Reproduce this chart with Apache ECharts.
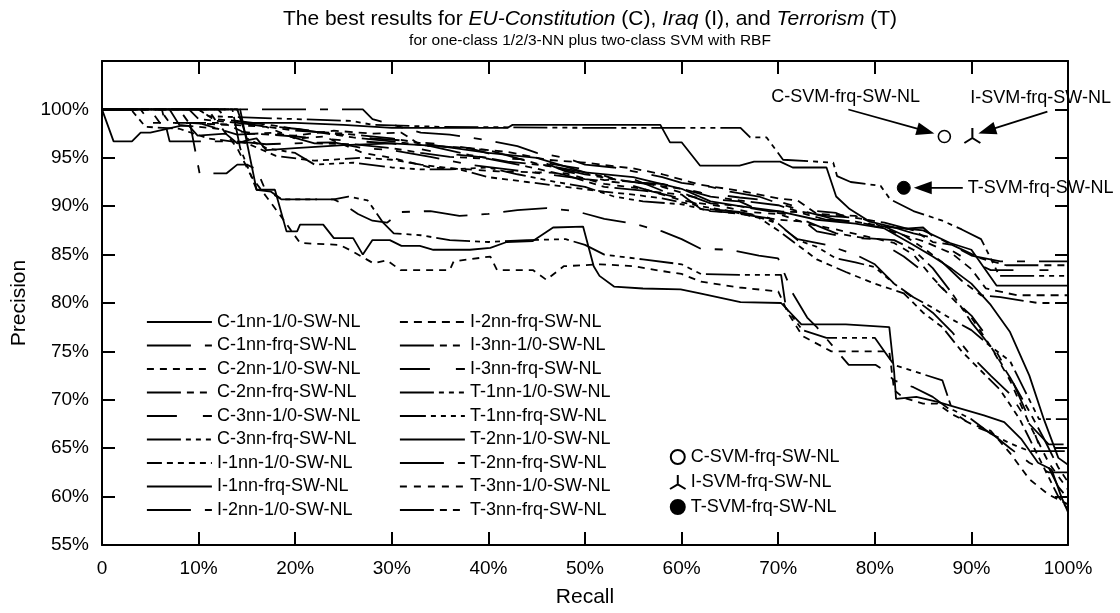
<!DOCTYPE html>
<html><head><meta charset="utf-8">
<script src="https://cdn.jsdelivr.net/npm/echarts@6/dist/echarts.min.js"></script>
<style>html,body{margin:0;padding:0;background:#fff}#c{width:1120px;height:613px}</style>
</head><body><div id="c"></div>
<script>
// ---------- data (recall %, precision %) ----------
const xTicks = [0,10,20,30,40,50,60,70,80,90,100];
const yTicks = [55,60,65,70,75,80,85,90,95,100];
const seriesNames = ['C-1nn-1/0-SW-NL','C-1nn-frq-SW-NL','C-2nn-1/0-SW-NL','C-2nn-frq-SW-NL','C-3nn-1/0-SW-NL','C-3nn-frq-SW-NL','I-1nn-1/0-SW-NL','I-1nn-frq-SW-NL','I-2nn-1/0-SW-NL','I-2nn-frq-SW-NL','I-3nn-1/0-SW-NL','I-3nn-frq-SW-NL','T-1nn-1/0-SW-NL','T-1nn-frq-SW-NL','T-2nn-1/0-SW-NL','T-2nn-frq-SW-NL','T-3nn-1/0-SW-NL','T-3nn-frq-SW-NL'];
const svmNames = ['C-SVM-frq-SW-NL','I-SVM-frq-SW-NL','T-SVM-frq-SW-NL'];

const c1nn10 = [[0,100],[14,100],[14.5,98.6],[20,98.6],[25,98.4],[30,98.1],[42,98.1],[42.5,98.4],[57.8,98.4],[58.8,96.6],[60,96.6],[61.9,94.2],[66,94.2],[67.5,94.6],[70.2,94.6],[71.5,94],[75,94],[76,91],[77.4,89.7],[79.5,88.4],[82,87.8],[85,87.5],[87.8,86.2],[90,85.5],[92.6,81.8],[100,81.8]];
const c1nnfrq = [[0,100],[27,100],[28,99],[33,97.6],[36,97.4],[40,96.8],[43,96.2],[45,95.5],[48,95],[50,94.3],[53,94],[55,93.6],[58,93],[60,92.4],[63,92],[65,91.5],[68,91],[70,90.3],[73,89.4],[76,88.6],[78,88.4],[80,88],[82,87.8],[84,87.2],[87,86.5],[90,84.9],[93,84.3],[100,84.3]];
const c2nn10 = [[0,100],[6,100],[7,98.6],[12,98.6],[14,96],[15.5,93],[17,91],[18.5,89],[20.5,86.2],[24.6,86],[26,85.3],[28.1,84.1],[29.5,84.4],[30.9,83.4],[36,83.4],[36.4,84.3],[40.2,84.8],[40.9,83.4],[44.6,83.4],[46,82.4],[47.8,83.8],[51.6,84],[55,83.8],[58,83.3],[60,83],[62,82.2],[66,81.6],[70,81.2],[71,79],[72.5,76.6],[75.5,75],[81.5,75],[82,71],[83,70.2],[85,69.6],[86.5,69.6],[88,68.5],[90,67.5],[92,66.8],[94,64.5],[96,61.8],[98,60.2],[100,59.2]];
const c2nnfrq = [[0,100],[9,100],[10,99],[15,98.5],[20,97.8],[25,97.5],[30,97],[35,96.2],[40,95.8],[45,94.4],[50,93.5],[53,92.8],[57,92.2],[60,91.8],[63,91],[66,90.6],[70,90.1],[72,89.5],[75,89],[78,88.8],[81,88.3],[84,87.5],[86,86.3],[88,86],[91,84.6],[93.6,83.9],[100,83.9]];
const c3nn10 = [[0,100],[5,100],[6,98.6],[10,98.6],[12,98],[16,97.5],[20,97.2],[25,96.8],[30,96.5],[35,95.5],[40,95],[45,94.8],[48,93.6],[52,92.7],[55,92.8],[58,91.6],[62,90.8],[66,90.5],[68,89.6],[72,89],[74,87.4],[77,86.8],[80,86.6],[83,84.8],[86,82.5],[88,80.5],[90,78.7],[92,76],[94,72.5],[96,68],[97.5,64],[99,61],[100,59.8]];
const c3nnfrq = [[0,100],[10,100],[11,99.3],[20,99],[26,98.8],[28,98.4],[35,98.2],[49.5,98.1],[66.1,98.1],[67.1,97.1],[68.8,97.1],[70.5,94.8],[75.7,94.5],[76.1,93.1],[77.5,92.5],[80.6,92.1],[81.6,90.7],[84,89.5],[87,88.5],[89,87.6],[91,86.6],[92.9,82.8],[100,82.8]];
const i1nn10 = [[0,100],[3,100],[4.5,98.2],[8,98],[11,97],[15,96.5],[18,95.2],[22,94.7],[27,95],[30,94.8],[33,94.3],[37,93.8],[40,93],[44,92.5],[48,92],[52,91.5],[55,91.2],[58,90.8],[62,90],[65,89.5],[68,88.8],[70,87.5],[72,86],[74,84.5],[77,83.2],[80,82],[83,81],[85,79],[87,77.5],[89,75],[91,73],[93,71],[95,68],[97,64],[99,60],[100,58.7]];
const i1nnfrq = [[0,100],[1.2,96.7],[3.1,96.7],[4,97.6],[5,97.6],[8.1,98.3],[9,98.3],[9.9,97.3],[12.8,97.5],[14,96.5],[15,96.8],[16,97],[17,95.8],[20,96],[25,96.3],[30,96.5],[35,96.2],[40,95.5],[45,95],[50,93.5],[55,93],[60,91.8],[63,90.5],[66,90],[70,89.5],[74,88.6],[78,88.2],[81,87.7],[84,86],[86,84.8],[88,83.5],[90,82],[92,79.8],[94,77],[96,72.5],[97.5,68],[99,64],[100,63.3]];
const i2nn10 = [[0,100],[6.2,100],[7,96.7],[14,96.7],[17,96.4],[20,96.5],[24,96.6],[27,96],[30,95.8],[34,95.1],[38,94.3],[42,93.8],[46,93.3],[50,92.8],[54,92.4],[57,91.5],[60,90.8],[63,89.7],[66,89.4],[69,88.8],[72,86.6],[75,86],[78,85],[80,84],[82,82],[84,80.5],[86,79],[88,77],[90,74.5],[92,72.5],[94,70.6],[96,67.5],[98,65.4],[100,65.4]];
const i2nnfrq = [[0,100],[8,100],[9,98.6],[13,98.4],[15,97.5],[20,97.3],[24,97.8],[28,97.5],[31,97.6],[33,96.3],[38,96],[42,95.6],[46,94.8],[50,94.5],[55,93.9],[58,93.3],[62,92.2],[66,91.6],[70,90.8],[72,90.6],[74,89.2],[78,89],[80,88.2],[82,87.3],[85,86.4],[88,85.1],[90,83.5],[91.5,81.5],[94.7,80.8],[100,80.8]];
const i3nn10 = [[0,100],[7,100],[8,98.4],[12,98],[14,97.4],[18,97.6],[22,96.5],[26,96.4],[30,96],[33,95.5],[36,95.1],[40,94.9],[44,94.1],[48,93.2],[52,92],[56,91.6],[60,91.2],[62,89.7],[66,89.2],[70,88.6],[73,88.4],[76,87.2],[79,86.7],[82,86.5],[84,85.5],[86,83.6],[88,81],[90,78],[92,75.5],[94,72.3],[96,68.8],[97.5,66],[99,63],[100,61.5]];
const i3nnfrq = [[0,100],[12,100],[13,99],[16,98.4],[20,98],[24,97.5],[28,97],[31,96.8],[35,96.4],[38,96],[41,95.2],[45,94.6],[50,93.8],[54,92.5],[58,92.3],[62,91.4],[66,90.9],[70,90.5],[73,89.6],[76,89.3],[79,88.1],[82,87.6],[85,87.8],[87,86],[89,84.8],[92,83.4],[94.5,83.4],[100,83.4]];
const t1nn10 = [[0,100],[13.5,100],[14.3,96],[15.3,93.5],[16,91.7],[17.5,91.5],[18.6,90.7],[24,90.7],[25.5,91],[27.5,90.6],[29.1,88.3],[30.2,87.2],[33,87],[36,86.5],[40,86.3],[44,86.5],[48,86.6],[50,86],[52,85],[56,84.5],[60,84],[62,83],[66,82.9],[70.3,82.9],[70.8,79.5],[72.5,77.2],[75,76.4],[80,76.4],[81,75],[82,73.6],[84.5,72.8],[87,72],[88,69],[90,68],[92,66.5],[94,65.5],[96,64.7],[100,64.7]];
const t1nnfrq = [[0,100],[14,100],[15,97],[17,96],[20,95.5],[22,94.3],[26,94.5],[30,94],[33,93.8],[36,93.8],[40,94],[43,93.3],[47,92.5],[50,92],[53,91],[56,90.5],[60,90.2],[63,89.5],[67,89.2],[70,88.2],[72,86.5],[74,85.8],[76,84.6],[78,84.2],[80,83.7],[82,82],[84,80.6],[86,79.5],[88,78.3],[90,77.2],[92,75.5],[94,74],[95.5,71],[97,68],[100,68]];
const t2nn10 = [[0,100],[14.3,100],[16,91.7],[17.9,91.7],[19.1,87.4],[20.2,87.4],[20.5,88.1],[22.9,88.1],[24,86.7],[26,86.7],[27,85],[28,86.5],[29.8,86.5],[31,85.9],[32.9,85.9],[34.3,85.5],[38.1,85.5],[40.2,85.7],[41.9,86.3],[44.6,86.4],[46.7,87.8],[49.8,87.9],[50.9,83.8],[51.5,82.8],[53,81.7],[56,81.5],[59.9,81.4],[61.9,81],[66.1,80.1],[70.3,80],[72.4,77.8],[77,77.8],[81.5,77.5],[82,72.9],[82.2,70.1],[84.3,70.3],[86.4,69.8],[91.3,68.4],[93.4,67.7],[95.2,65.9],[96.9,63.5],[98.3,62.8],[99.3,60],[100,58.4]];
const t2nnfrq = [[0,100],[4,100],[5,98.6],[9.1,98.6],[10.1,93.4],[12.9,93.4],[14,94.3],[15,94.3],[16,93.8],[16.9,91.7],[18.6,90.7],[24,90.7],[25,90.2],[26.5,89.2],[28,88.5],[29.5,88.3],[31,89.4],[34,89.5],[37,89],[40,89.2],[43,89.6],[46,89.8],[49,89.5],[52,88.7],[55,88.2],[58,87.4],[60,86.6],[62,85.6],[65,85.5],[68,84.9],[70,84.6],[71.5,81],[73,78.5],[74,77.5],[77.3,73.6],[80.1,73.6],[81,73],[82,72],[84,71.3],[86,70.3],[88,68.8],[90,67.4],[92,66.6],[94,65],[96,63.5],[98,62.5],[100,62.5]];
const t3nn10 = [[0,100],[11,100],[12,98.5],[17,98.2],[20,97],[23,97.2],[27,95.5],[30,95],[34,94],[38,93.8],[41,93.6],[45,93.5],[48,93.4],[52,92.3],[56,91.8],[60,90.6],[64,90],[67,89.4],[70,89.2],[73,88.2],[76,87.6],[79,86.9],[82,86.2],[84,85],[86,82.6],[88,80.5],[90,78.5],[92,75.5],[94,72],[96,67.5],[98,63.5],[100,60.7]];
const t3nnfrq = [[0,100],[10,100],[11.5,99],[14,98.8],[18,98.3],[22,97.7],[26,97.1],[30,96.7],[34,96.2],[38,95.3],[42,94.6],[46,94.2],[50,93.3],[54,92.6],[57,92.3],[60,91.4],[63,90.3],[66,90],[69,89.5],[72,89.4],[75,88.6],[78,88.4],[81,87.9],[83,87],[85,85.7],[87,84.2],[89,82.3],[91,80.8],[93,80.6],[96.9,80],[100,80]];

const svmC = [[87.2, 97.2]];
const svmI = [[90.1, 97.3]];
const svmT = [[83.0, 91.9]];

const seriesData = [c1nn10,c1nnfrq,c2nn10,c2nnfrq,c3nn10,c3nnfrq,i1nn10,i1nnfrq,i2nn10,i2nnfrq,i3nn10,i3nnfrq,t1nn10,t1nnfrq,t2nn10,t2nnfrq,t3nn10,t3nnfrq];

// ---------- styles ----------
const dashes = ['solid',[44,14,8,14],[7,6],[34,6,7,6,7,6],[30,26,9,26],[34,5,5,5,5,5,5,5],
  [15,5,6,5,6,5,6,5,6,5],'solid',[44,14,8,14],[8,6],[34,6,7,6,7,6],[30,26,9,26],
  [34,5,5,5,5,5,5,5],[26,5,5,5,5,5,5,5,5,5],'solid',[44,14,8,14],[7,7],[34,6,7,6,7,6]];
const FONT = '"Liberation Sans", Arial, Helvetica, sans-serif';
const LW = 1.8;

const chart = echarts.init(document.getElementById('c'), null, {renderer:'canvas'});

const lineSeries = seriesData.map((d,i)=>({
  name: seriesNames[i], type:'line', data:d, symbol:'none', showSymbol:false,
  lineStyle:{color:'#000', width:LW, type:dashes[i], opacity:1}, itemStyle:{color:'#000'},
  silent:true, z:2, clip:true
}));
const scatterSeries = [
  {name:svmNames[0], type:'scatter', data:svmC, symbol:'circle', symbolSize:12,
   itemStyle:{color:'#fff', borderColor:'#000', borderWidth:1.6, opacity:1}, z:5},
  {name:svmNames[1], type:'scatter', data:svmI, symbol:'path://M10,0 L10,12 M10,12 L0,18 M10,12 L20,18', symbolSize:[16,15],
   itemStyle:{color:'rgba(0,0,0,0)', borderColor:'#000', borderWidth:2, opacity:1}, z:5},
  {name:svmNames[2], type:'scatter', data:svmT, symbol:'circle', symbolSize:13,
   itemStyle:{color:'#000', borderColor:'#000', borderWidth:1, opacity:1}, z:5}
];

const axisCommon = {
  type:'value', min:0, max:100, interval:10,
  axisLine:{show:true, onZero:false, lineStyle:{color:'#000', width:2}},
  axisTick:{show:true, inside:true, length:13, lineStyle:{color:'#000', width:2}},
  splitLine:{show:false}
};
const legendText = {fontSize:18, fontFamily:FONT, color:'#000', lineHeight:18};
const hiddenSymbol = {color:'rgba(0,0,0,0)', borderWidth:0, opacity:0};

const option = {
  animation:false,
  backgroundColor:'#fff',
  textStyle:{fontFamily:FONT},
  title:{
    text:'{n|The best results for }{i|EU-Constitution}{n| (C), }{i|Iraq}{n| (I), and }{i|Terrorism}{n| (T)}',
    subtext:'for one-class 1/2/3-NN plus two-class SVM with RBF',
    left:585, top:4, textAlign:'center', itemGap:3,
    textStyle:{fontSize:21, fontWeight:'normal', color:'#000', fontFamily:FONT,
      rich:{n:{fontSize:21, color:'#000', fontFamily:FONT}, i:{fontSize:21, color:'#000', fontStyle:'italic', fontFamily:FONT}}},
    subtextStyle:{fontSize:15.5, color:'#000', fontFamily:FONT}
  },
  grid:{left:102, right:52, top:61, bottom:68, outerBoundsMode:'none', containLabel:false},
  xAxis:[
    Object.assign({}, axisCommon, {position:'bottom', name:'Recall', nameLocation:'middle', nameGap:42,
      nameTextStyle:{fontSize:21, color:'#000', fontFamily:FONT},
      axisLabel:{show:true, margin:14, fontSize:19, color:'#000', fontFamily:FONT,
        formatter:v=> xTicks.indexOf(v)<0 ? '' : (v===0?'0':v+'%')}}),
    Object.assign({}, axisCommon, {position:'top', axisLabel:{show:false}})
  ],
  yAxis:[
    Object.assign({}, axisCommon, {min:55, max:105, interval:5, position:'left', name:'Precision', nameLocation:'middle', nameGap:60,
      nameTextStyle:{fontSize:21, color:'#000', fontFamily:FONT},
      axisLabel:{show:true, margin:13, fontSize:19, color:'#000', fontFamily:FONT,
        formatter:v=> yTicks.indexOf(v)<0 ? '' : v+'%'}}),
    Object.assign({}, axisCommon, {min:55, max:105, interval:5, position:'right', axisLabel:{show:false}})
  ],
  legend:[
    {data:seriesNames.slice(0,9), orient:'vertical', left:141, top:308, itemWidth:65, itemHeight:14, itemGap:5.5,
     selectedMode:false, textStyle:legendText, lineStyle:{width:LW}, itemStyle:hiddenSymbol},
    {data:seriesNames.slice(9), orient:'vertical', left:394, top:308, itemWidth:65, itemHeight:14, itemGap:5.5,
     selectedMode:false, textStyle:legendText, lineStyle:{width:LW}, itemStyle:hiddenSymbol},
    {data:svmNames, orient:'vertical', left:664, top:443, itemWidth:16, itemHeight:14, itemGap:7,
     selectedMode:false, textStyle:legendText}
  ],
  series: lineSeries.concat(scatterSeries)
};
chart.setOption(option);

// ---------- annotations anchored on the SVM points ----------
const toPx = p => chart.convertToPixel({xAxisIndex:0, yAxisIndex:0}, p);
function arrowEls(x1,y1,x2,y2){
  const dx=x2-x1, dy=y2-y1, L=Math.hypot(dx,dy), ux=dx/L, uy=dy/L;
  const hl=18, hw=6.5, bx=x2-ux*hl, by=y2-uy*hl;
  return [
    {type:'line', shape:{x1:x1,y1:y1,x2:bx+ux*2,y2:by+uy*2}, style:{stroke:'#000', lineWidth:1.8}, silent:true, z:10},
    {type:'polygon', shape:{points:[[x2,y2],[bx-uy*hw,by+ux*hw],[bx+uy*hw,by-ux*hw]]}, style:{fill:'#000'}, silent:true, z:10}
  ];
}
function label(txt,x,y){
  return {type:'text', x:x, y:y, z:10, silent:true,
    style:{text:txt, fontSize:18, fontFamily:FONT, fill:'#000', align:'left', verticalAlign:'middle'}};
}
const pC = toPx(svmC[0]), pI = toPx(svmI[0]), pT = toPx(svmT[0]);
const tipC = [pC[0]-10, pC[1]-3], tipI = [pI[0]+6, pI[1]-2], tipT = [pT[0]+10, pT[1]];
const g = [];
g.push(...arrowEls(tipC[0]-86, tipC[1]-24, tipC[0], tipC[1]));
g.push(...arrowEls(tipI[0]+69, tipI[1]-22, tipI[0], tipI[1]));
g.push(...arrowEls(tipT[0]+49, tipT[1], tipT[0], tipT[1]));
g.push(label(svmNames[0], tipC[0]-163, tipC[1]-36));
g.push(label(svmNames[1], tipI[0]-8, tipI[1]-36));
g.push(label(svmNames[2], tipT[0]+54, tipT[1]));
chart.setOption({graphic:g});
</script></body></html>
